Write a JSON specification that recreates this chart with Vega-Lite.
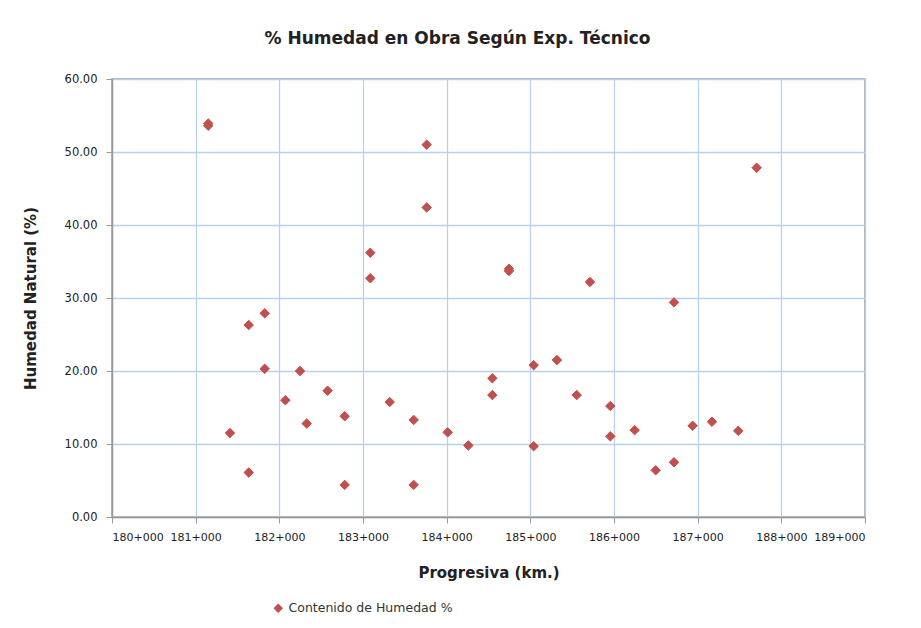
{
  "$schema": "https://vega.github.io/schema/vega-lite/v6.json",
  "autosize": "none",
  "width": 753,
  "height": 438,
  "padding": {"left": 112, "top": 79, "right": 56, "bottom": 111},
  "background": "white",
  "title": {
    "text": "% Humedad en Obra Según Exp. Técnico",
    "font": "DejaVu Sans",
    "fontSize": 17,
    "fontWeight": "bold",
    "color": "#222222",
    "anchor": "middle",
    "dx": -31,
    "offset": 25
  },
  "data": {
    "values": [
      {"progresiva": 181150, "humedad": 53.6},
      {"progresiva": 181150, "humedad": 53.9},
      {"progresiva": 183087, "humedad": 36.2},
      {"progresiva": 183087, "humedad": 32.7},
      {"progresiva": 183761, "humedad": 51.0},
      {"progresiva": 183761, "humedad": 42.4},
      {"progresiva": 184745, "humedad": 33.7},
      {"progresiva": 184745, "humedad": 34.0},
      {"progresiva": 185713, "humedad": 32.2},
      {"progresiva": 186717, "humedad": 29.4},
      {"progresiva": 187705, "humedad": 47.85},
      {"progresiva": 181825, "humedad": 27.9},
      {"progresiva": 181634, "humedad": 26.3},
      {"progresiva": 181825, "humedad": 20.3},
      {"progresiva": 182247, "humedad": 20.0},
      {"progresiva": 182072, "humedad": 16.0},
      {"progresiva": 182577, "humedad": 17.3},
      {"progresiva": 182327, "humedad": 12.8},
      {"progresiva": 182781, "humedad": 13.8},
      {"progresiva": 183319, "humedad": 15.75},
      {"progresiva": 183606, "humedad": 13.3},
      {"progresiva": 181410, "humedad": 11.5},
      {"progresiva": 181634, "humedad": 6.1},
      {"progresiva": 182781, "humedad": 4.4},
      {"progresiva": 183606, "humedad": 4.4},
      {"progresiva": 184012, "humedad": 11.6},
      {"progresiva": 184259, "humedad": 9.8},
      {"progresiva": 184546, "humedad": 19.0},
      {"progresiva": 184546, "humedad": 16.7},
      {"progresiva": 185040, "humedad": 20.8},
      {"progresiva": 185040, "humedad": 9.7},
      {"progresiva": 185318, "humedad": 21.5},
      {"progresiva": 185554, "humedad": 16.7},
      {"progresiva": 185956, "humedad": 15.2},
      {"progresiva": 185956, "humedad": 11.05},
      {"progresiva": 186247, "humedad": 11.9},
      {"progresiva": 186498, "humedad": 6.4},
      {"progresiva": 186717, "humedad": 7.5},
      {"progresiva": 186940, "humedad": 12.5},
      {"progresiva": 187171, "humedad": 13.05},
      {"progresiva": 187485, "humedad": 11.8}
    ]
  },
  "mark": {"type": "point", "shape": "diamond", "filled": true, "size": 90, "opacity": 1, "strokeJoin": "round", "stroke": "#c0504d", "strokeWidth": 1},
  "encoding": {
    "x": {
      "field": "progresiva",
      "type": "quantitative",
      "scale": {"domain": [180000, 189000], "nice": false, "zero": false},
      "axis": {
        "title": "Progresiva (km.)",
        "values": [180000, 181000, 182000, 183000, 184000, 185000, 186000, 187000, 188000, 189000],
        "labelExpr": "floor(datum.value / 1000) + '+000'",
        "labelOverlap": false,
        "labelFontSize": 11,
        "labelPadding": 8,
        "titlePadding": 23,
        "titleFontSize": 15
      }
    },
    "y": {
      "field": "humedad",
      "type": "quantitative",
      "scale": {"domain": [0, 60], "nice": false},
      "axis": {
        "title": "Humedad Natural (%)",
        "values": [0, 10, 20, 30, 40, 50, 60],
        "format": ".2f",
        "labelPadding": 9,
        "titlePadding": 26,
        "titleFontSize": 15
      }
    },
    "color": {
      "datum": "Contenido de Humedad %",
      "type": "nominal",
      "scale": {"range": ["#c0504d"]},
      "legend": {
        "title": null,
        "orient": "none",
        "legendX": 160,
        "legendY": 523,
        "symbolType": "diamond",
        "symbolSize": 55,
        "labelFontSize": 12.5,
        "labelLimit": 400,
        "labelFont": "DejaVu Sans",
        "labelColor": "#333333"
      }
    }
  },
  "config": {
    "view": {"stroke": "#9a9a9a", "strokeWidth": 1.5},
    "axis": {
      "gridColor": "#b9d0ee",
      "gridWidth": 1.3,
      "domainColor": "#9a9a9a",
      "domainWidth": 1.5,
      "tickColor": "#9a9a9a",
      "tickSize": 6,
      "labelFont": "DejaVu Sans",
      "labelFontSize": 11.5,
      "labelColor": "#222222",
      "titleFont": "DejaVu Sans",
      "titleFontWeight": "bold",
      "titleColor": "#222222"
    }
  }
}
